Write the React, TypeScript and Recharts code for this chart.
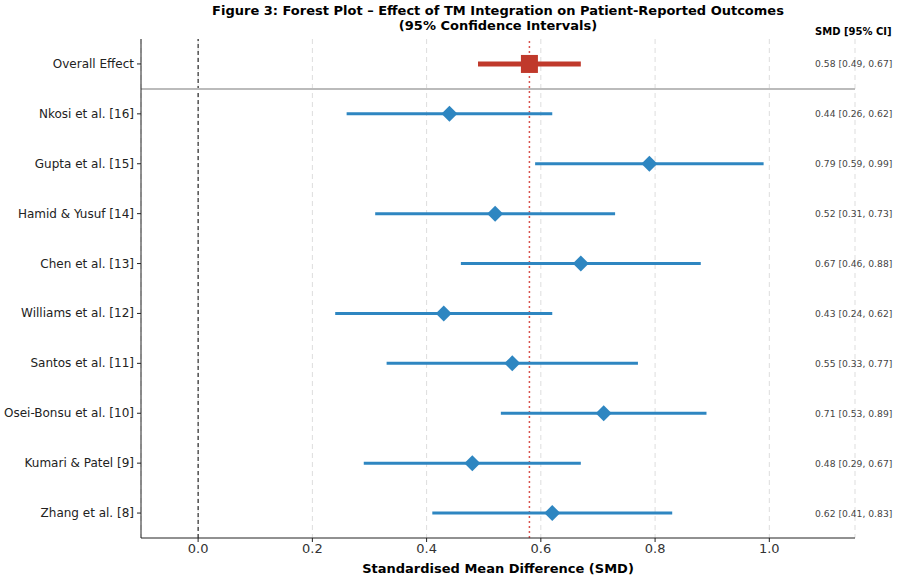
import React from 'react';
import {
  ScatterChart, Scatter, XAxis, YAxis, CartesianGrid, ReferenceLine, ErrorBar, Label,
} from 'recharts';

const studies = [
  'Overall Effect',
  'Nkosi et al. [16]',
  'Gupta et al. [15]',
  'Hamid & Yusuf [14]',
  'Chen et al. [13]',
  'Williams et al. [12]',
  'Santos et al. [11]',
  'Osei-Bonsu et al. [10]',
  'Kumari & Patel [9]',
  'Zhang et al. [8]',
];
const smd = [0.58, 0.44, 0.79, 0.52, 0.67, 0.43, 0.55, 0.71, 0.48, 0.62];
const ciLow = [0.49, 0.26, 0.59, 0.31, 0.46, 0.24, 0.33, 0.53, 0.29, 0.41];
const ciHigh = [0.67, 0.62, 0.99, 0.73, 0.88, 0.62, 0.77, 0.89, 0.67, 0.83];
const xTicks = [0, 0.2, 0.4, 0.6, 0.8, 1.0];

const BLUE = '#2e86c1';
const RED = '#c0392b';
const FONT = '"DejaVu Sans", sans-serif';
const LABEL_X = 1.08;

const rows = studies.map((name, i) => ({
  name,
  row: i,
  x: smd[i],
  err: [+(smd[i] - ciLow[i]).toFixed(2), +(ciHigh[i] - smd[i]).toFixed(2)],
  text: `${smd[i].toFixed(2)} [${ciLow[i].toFixed(2)}, ${ciHigh[i].toFixed(2)}]`,
}));
const overall = rows.slice(0, 1);
const trials = rows.slice(1);
const labels = rows.map((r) => ({ ...r, x: LABEL_X }));

const Diamond = (props: any) => {
  const { cx, cy } = props;
  const h = 8;
  return (
    <polygon
      points={`${cx},${cy - h} ${cx + h},${cy} ${cx},${cy + h} ${cx - h},${cy}`}
      fill={BLUE}
    />
  );
};

const Square = (props: any) => {
  const { cx, cy } = props;
  return <rect x={cx - 8.5} y={cy - 9} width={17} height={18} fill={RED} />;
};

const Nothing = () => <g />;

const RowText = (props: any) => {
  const { cx, cy, payload } = props;
  return (
    <text x={cx} y={cy} dy={3.5} fontSize={9.2} fill="#444" fontFamily={FONT}>
      {payload.text}
    </text>
  );
};

const StudyTick = (props: any) => {
  const { x, y, payload } = props;
  return (
    <text x={x - 1} y={y} dy={4} textAnchor="end" fontSize={12} fill="#222" fontFamily={FONT}>
      {studies[payload.value]}
    </text>
  );
};

const App: React.FC = () => {
  return (
    <div style={{ position: 'absolute', left: 0, top: 0, width: 897, height: 581, background: '#fff', fontFamily: FONT }}>
      <div style={{ position: 'absolute', left: 0, width: 996, top: 3, textAlign: 'center', fontWeight: 'bold', fontSize: 13, lineHeight: '15px', color: '#000' }}>
        Figure 3: Forest Plot – Effect of TM Integration on Patient-Reported Outcomes
        <br />
        (95% Confidence Intervals)
      </div>
      <div style={{ position: 'absolute', left: 815, top: 26, fontWeight: 'bold', fontSize: 10, color: '#000' }}>
        SMD [95% CI]
      </div>
      <ScatterChart width={897} height={581} margin={{ top: 39, right: 42, bottom: 0, left: 8 }}>
        <CartesianGrid horizontal={false} stroke="#dddddd" strokeDasharray="5 4" />
        <XAxis
          type="number"
          dataKey="x"
          domain={[-0.1, 1.15]}
          ticks={xTicks}
          tickFormatter={(v: number) => v.toFixed(1)}
          height={43}
          stroke="#222"
          tick={{ fontSize: 13, fill: '#333', fontFamily: FONT }}
          tickSize={4}
        >
          <Label
            value="Standardised Mean Difference (SMD)"
            position="insideBottom"
            offset={8}
            style={{ fontWeight: 'bold', fontSize: 13, fill: '#000', fontFamily: FONT }}
          />
        </XAxis>
        <YAxis
          type="number"
          dataKey="row"
          domain={[-0.5, 9.5]}
          ticks={studies.map((_, i) => i)}
          interval={0}
          reversed
          width={133}
          stroke="#222"
          tick={<StudyTick />}
          tickSize={4}
        />
        <ReferenceLine x={0} stroke="#000" strokeDasharray="4 3" strokeWidth={1} />
        <ReferenceLine y={0.5} stroke="#bbbbbb" strokeWidth={2} />
        <ReferenceLine x={smd[0]} stroke="#d9534f" strokeDasharray="2 3" strokeWidth={1.5} />
        <Scatter data={trials} dataKey="row" shape={<Nothing />} isAnimationActive={false}>
          <ErrorBar dataKey="err" direction="x" width={0} stroke={BLUE} strokeWidth={3} />
        </Scatter>
        <Scatter data={overall} dataKey="row" shape={<Nothing />} isAnimationActive={false}>
          <ErrorBar dataKey="err" direction="x" width={0} stroke={RED} strokeWidth={5} />
        </Scatter>
        <Scatter data={trials} dataKey="row" shape={<Diamond />} isAnimationActive={false} />
        <Scatter data={overall} dataKey="row" shape={<Square />} isAnimationActive={false} />
        <Scatter data={labels} dataKey="row" shape={<RowText />} isAnimationActive={false} />
      </ScatterChart>
    </div>
  );
};

export default App;
